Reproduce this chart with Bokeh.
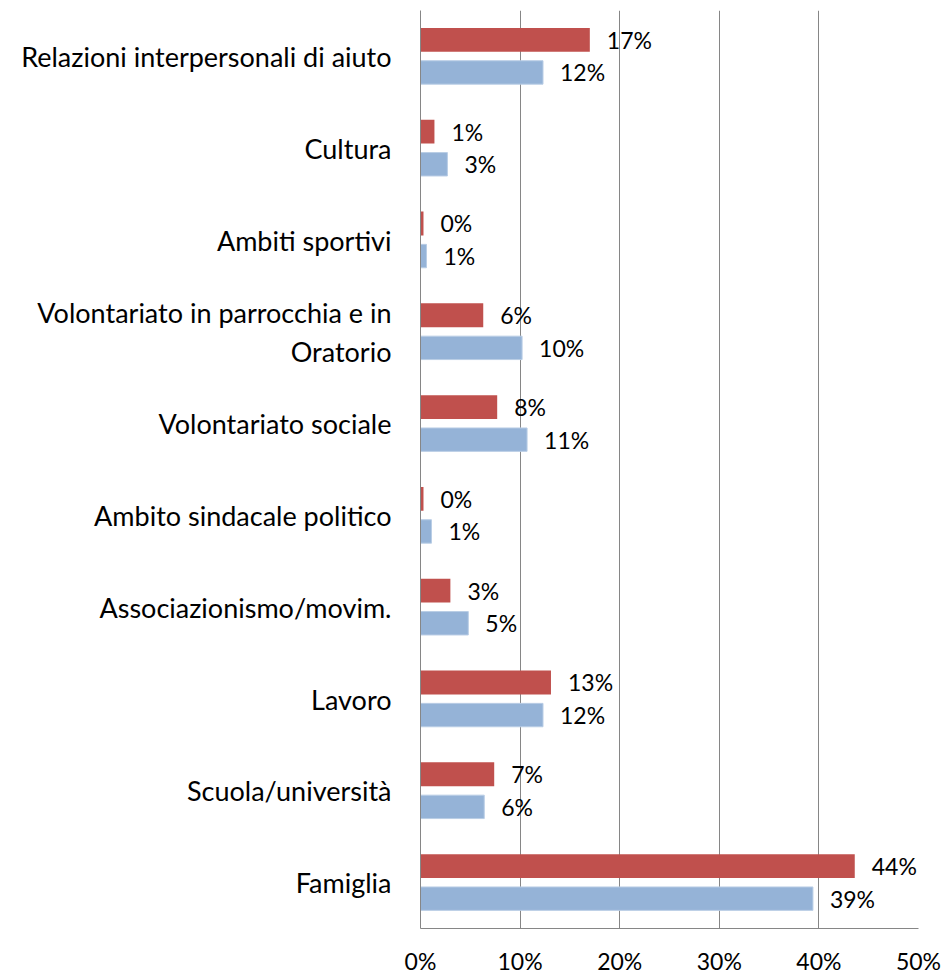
from bokeh.plotting import figure
from bokeh.models import ColumnDataSource, FactorRange, Range1d, FixedTicker
from bokeh.transform import dodge
from bokeh.core.properties import value
from bokeh.embed import file_html
from bokeh.resources import INLINE

categories = [
    "Relazioni interpersonali di aiuto",
    "Cultura",
    "Ambiti sportivi",
    "Volontariato in parrocchia e in\nOratorio",
    "Volontariato sociale",
    "Ambito sindacale politico",
    "Associazionismo/movim.",
    "Lavoro",
    "Scuola/università",
    "Famiglia",
]
red_values = [17.0, 1.4, 0.3, 6.3, 7.7, 0.3, 3.0, 13.1, 7.4, 43.6]
blue_values = [12.3, 2.7, 0.6, 10.2, 10.7, 1.1, 4.8, 12.3, 6.4, 39.4]
x_ticks = [0, 10, 20, 30, 40, 50]

FONT = "Lato"
RED = "#C0504D"
BLUE = "#95B3D7"
GRID = "#868686"

src = ColumnDataSource(dict(
    cat=categories,
    red=red_values,
    blue=blue_values,
    red_lbl=[f"{round(v)}%" for v in red_values],
    blue_lbl=[f"{round(v)}%" for v in blue_values],
))

multi = [c for c in categories if "\n" in c]
msrc = ColumnDataSource(dict(cat=multi, x=[0] * len(multi)))

p = figure(
    width=941, height=968,
    y_range=FactorRange(factors=list(reversed(categories)), range_padding=0),
    x_range=Range1d(0, 50),
    output_backend="svg", toolbar_location=None,
    min_border_left=420, min_border_right=23, min_border_top=10, min_border_bottom=40,
)
p.frame_width = 498
p.frame_height = 918
p.outline_line_color = None
p.background_fill_color = "white"
p.border_fill_color = "white"

p.hbar(y=dodge("cat", 0.18, range=p.y_range), right="red", left=0, height=0.26,
       source=src, fill_color=RED, line_color=None)
p.hbar(y=dodge("cat", -0.175, range=p.y_range), right="blue", left=0, height=0.255,
       source=src, fill_color=BLUE, line_color="#B9CDE5", line_width=1)

for col, lbl, off in (("red", "red_lbl", 0.18), ("blue", "blue_lbl", -0.175)):
    p.text(x=col, y=dodge("cat", off, range=p.y_range), text=lbl, source=src,
           x_offset=17, text_align="left", text_baseline="middle",
           text_font=value(FONT), text_font_size="23px", text_color="black")

# wrapped category label, lines centred on each other as in the original
p.text(x="x", y="cat", text="cat", source=msrc, x_offset=-203,
       text_align="center", text_baseline="middle", text_line_height=1.37,
       text_font=value(FONT), text_font_size="27px", text_color="black")

p.xaxis.ticker = FixedTicker(ticks=x_ticks)
p.xaxis.major_label_overrides = {t: f"{t}%" for t in x_ticks}
p.xaxis.major_label_text_font = FONT
p.xaxis.major_label_text_font_size = "23px"
p.xaxis.major_label_text_color = "black"
p.xaxis.major_label_standoff = 12
p.xaxis.axis_line_color = GRID
p.xaxis.major_tick_line_color = None
p.xaxis.minor_tick_line_color = None

p.yaxis.major_label_overrides = {c: "" for c in multi}
p.yaxis.major_label_text_font = FONT
p.yaxis.major_label_text_font_size = "27px"
p.yaxis.major_label_text_color = "black"
p.yaxis.major_label_standoff = 23
p.yaxis.axis_line_color = GRID
p.yaxis.major_tick_line_color = None
p.yaxis.minor_tick_line_color = None

p.xgrid.ticker = FixedTicker(ticks=x_ticks)
p.xgrid.grid_line_color = GRID
p.ygrid.grid_line_color = None

open("out.html", "w").write(file_html(p, INLINE))
